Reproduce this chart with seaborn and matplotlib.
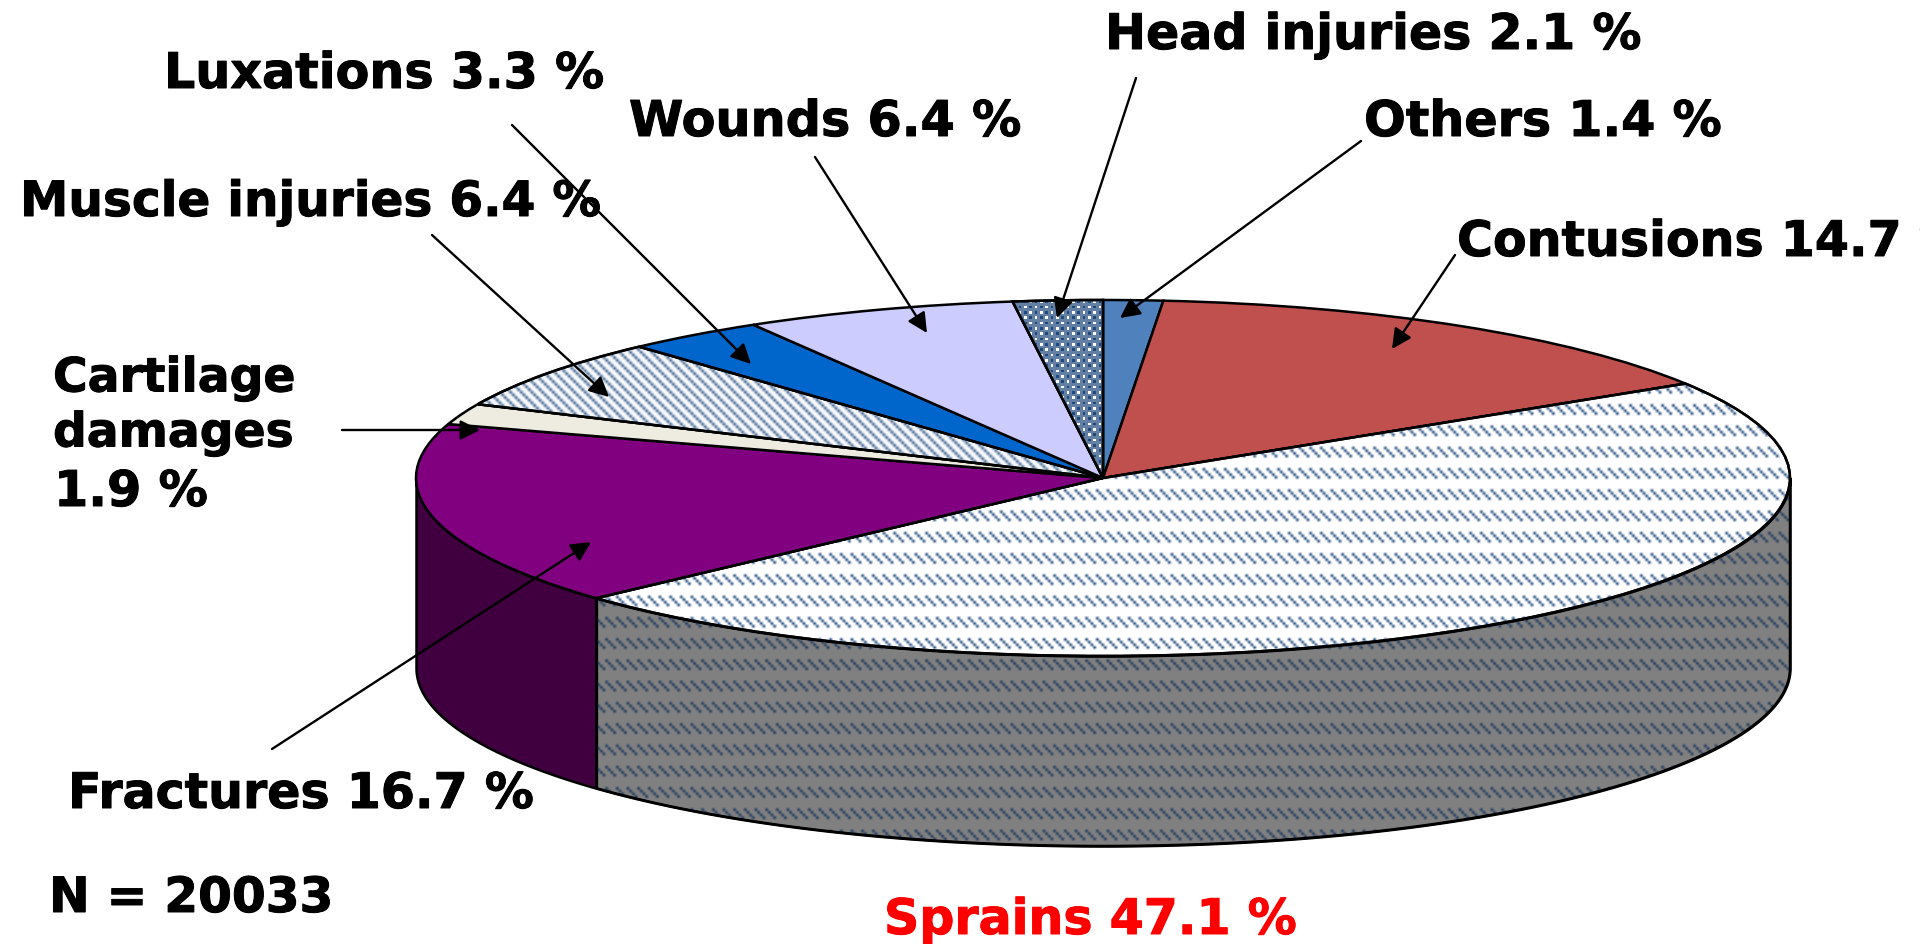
import numpy as np
import matplotlib
matplotlib.use("Agg")
import matplotlib.pyplot as plt
import matplotlib.patheffects as pe
from matplotlib.colors import to_rgb
from matplotlib.patches import PathPatch
import seaborn as sns

# slices clockwise from 12 o'clock
injuries = ["Others", "Contusions", "Sprains", "Fractures", "Cartilage damages",
            "Muscle injuries", "Luxations", "Wounds", "Head injuries"]
shares = [1.4, 14.7, 47.1, 16.7, 1.9, 6.4, 3.3, 6.4, 2.1]
slice_colors = ["#4F81BD", "#C0504D", "#FFFFFF", "#800080", "#EEECE1",
                "#FFFFFF", "#0066CC", "#CCCCFF", "#FFFFFF"]
n_total = 20033

W, H = 1920, 944
CX, CY = 1103, 478      # pie centre in pixels
RX, RY = 687, 178       # ellipse semi axes
DEPTH = 190
PAT = "#1F497D"
LW = 1.8


def tile_image(tile, color):
    # office style pattern fill: one tile pixel is 8/3 screen pixels
    tile = np.array(tile, dtype=float)
    ny, nx = int(H * 3 / 8) + 1, int(W * 3 / 8)
    reps = (ny // tile.shape[0] + 1, nx // tile.shape[1] + 1)
    alpha = np.tile(tile, reps)[:ny, :nx]
    rgba = np.zeros((ny, nx, 4))
    rgba[..., :3] = to_rgb(color)
    rgba[..., 3] = alpha
    return rgba


dash_tile = np.roll([[1, 0, 0, 0, 1, 0, 0, 0],
                     [0, 1, 0, 0, 0, 1, 0, 0],
                     [0, 0, 1, 0, 0, 0, 1, 0],
                     [0, 0, 0, 1, 0, 0, 0, 1],
                     [0, 0, 0, 0, 0, 0, 0, 0],
                     [0, 0, 0, 0, 0, 0, 0, 0],
                     [0, 0, 0, 0, 0, 0, 0, 0],
                     [0, 0, 0, 0, 0, 0, 0, 0]], 3, axis=1)
stripe_tile = [[.85, .1, 0, .1],
               [.1, .85, .1, 0],
               [0, .1, .85, .1],
               [.1, 0, .1, .85]]
check_tile = np.roll([[1, .7, 0, .7],
                      [.7, .7, .7, .7],
                      [0, .7, 1, .7],
                      [.7, .7, .7, .7]], 1, axis=0)

sns.set_theme(style="white")
plt.rcParams["font.family"] = ["DejaVu Sans"]

fig = plt.figure(figsize=(W / 100, H / 100), dpi=100, facecolor="white")
ax = fig.add_axes([0, 0, 1, 1])

xlim = (-CX / RX, (W - CX) / RX)
ylim = (-(H - CY) / RY, CY / RY)
extent = (xlim[0], xlim[1], ylim[0], ylim[1])
depth = DEPTH / RY

# side wall, only the front half of the rim is visible
ends = np.cumsum(shares) / sum(shares) * 2 * np.pi
sprains_end = ends[injuries.index("Sprains")]
t1 = np.linspace(np.pi / 2, sprains_end, 200)
t2 = np.linspace(sprains_end, 3 * np.pi / 2, 80)
wall1 = ax.fill_between(np.sin(t1), np.cos(t1), np.cos(t1) - depth,
                        color="#808080", ec="black", lw=LW, zorder=1)
wall2 = ax.fill_between(np.sin(t2), np.cos(t2), np.cos(t2) - depth,
                        color="#400040", ec="black", lw=LW, zorder=1)
im = ax.imshow(tile_image(dash_tile, "#203A5E"), extent=extent, aspect="auto",
               interpolation="bilinear", zorder=1.5)
im.set_clip_path(wall1.get_paths()[0], ax.transData)
ax.fill_between(np.sin(t1), np.cos(t1), np.cos(t1) - depth,
                facecolor="none", ec="black", lw=LW, zorder=1.6)

wedges, _ = ax.pie(shares, colors=sns.color_palette(slice_colors), startangle=90,
                   counterclock=False, radius=1,
                   wedgeprops=dict(edgecolor="black", linewidth=LW, zorder=2))
ax.set_aspect("auto")

patterned = {"Sprains": (dash_tile, "bilinear"),
             "Muscle injuries": (stripe_tile, "bilinear"),
             "Head injuries": (check_tile, "nearest")}
for name, (tile, interp) in patterned.items():
    w = wedges[injuries.index(name)]
    im = ax.imshow(tile_image(tile, PAT), extent=extent, aspect="auto",
                   interpolation=interp, zorder=3)
    im.set_clip_path(w)
    ax.add_patch(PathPatch(w.get_path(), transform=w.get_transform(), fill=False,
                           ec="black", lw=LW, zorder=4))

ax.set_xlim(xlim)
ax.set_ylim(ylim)
ax.axis("off")

# labels and arrows go on a pixel overlay
over = fig.add_axes([0, 0, 1, 1], facecolor="none")
over.set_xlim(0, W)
over.set_ylim(H, 0)
over.axis("off")

labels = [("Head injuries 2.1 %", 1105, 35, 35.3), ("Others 1.4 %", 1364, 122, 35.4),
          ("Contusions 14.7 %", 1457, 242, 35.3), ("Wounds 6.4 %", 629, 122, 35.5),
          ("Luxations 3.3 %", 164, 74, 35.4), ("Muscle injuries 6.4 %", 20, 202, 35),
          ("Cartilage", 53, 379, 34), ("damages", 53, 434, 34), ("1.9 %", 54, 492, 35.5),
          ("Fractures 16.7 %", 68, 794, 35.3), (f"N = {n_total}", 49, 898, 35)]
halo = [pe.withStroke(linewidth=0.7, foreground="black")]
for txt, x, y, size in labels:
    over.text(x, y, txt, fontsize=size, fontweight="bold", color="black", va="center",
              ha="left", path_effects=halo)
over.text(884, 920, "Sprains 47.1 %", fontsize=35.3, fontweight="bold", color="#FF0000",
          va="center", ha="left",
          path_effects=[pe.withStroke(linewidth=0.7, foreground="#FF0000")])

arrows = [((1136, 78), (1057, 318)), ((1361, 141), (1120, 318)), ((1455, 255), (1392, 349)),
          ((815, 157), (927, 333)), ((512, 125), (751, 364)), ((432, 235), (609, 397)),
          ((342, 430), (480, 430)), ((272, 749), (591, 542))]
for start, end in arrows:
    over.annotate("", xy=end, xytext=start, zorder=6,
                  arrowprops=dict(arrowstyle="-|>", color="black", lw=1.7, mutation_scale=30,
                                  shrinkA=0, shrinkB=0))

fig.savefig("out.png", dpi=100)
